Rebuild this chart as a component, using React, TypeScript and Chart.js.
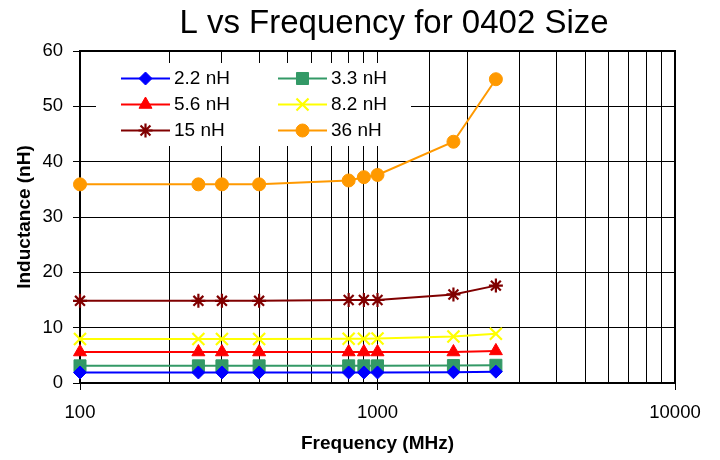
import React, { useEffect, useRef } from 'react';
import { Chart, registerables } from 'chart.js';
import { drawPoint } from 'chart.js/helpers';

Chart.register(...registerables);

const chartTitle = 'L vs Frequency for 0402 Size';
const xTitle = 'Frequency (MHz)';
const yTitle = 'Inductance (nH)';

const frequencies = [100, 250, 300, 400, 800, 900, 1000, 1800, 2500];
const seriesLabels = ['2.2 nH', '3.3 nH', '5.6 nH', '8.2 nH', '15 nH', '36 nH'];
const l2_2 = [1.9, 1.9, 1.9, 1.9, 1.9, 1.9, 1.9, 1.95, 2.05];
const l3_3 = [3.1, 3.1, 3.1, 3.1, 3.1, 3.1, 3.1, 3.15, 3.2];
const l5_6 = [5.6, 5.6, 5.6, 5.6, 5.6, 5.6, 5.6, 5.6, 5.8];
const l8_2 = [7.95, 7.95, 7.95, 7.95, 8.0, 8.0, 8.05, 8.4, 8.9];
const l15 = [14.85, 14.85, 14.85, 14.85, 15.0, 15.0, 15.0, 16.0, 17.6];
const l36 = [35.9, 35.9, 35.9, 35.9, 36.6, 37.2, 37.6, 43.6, 54.9];
const seriesValues = [l2_2, l3_3, l5_6, l8_2, l15, l36];

const xMin = 100;
const xMax = 10000;
const yMin = 0;
const yMax = 60;
const yStep = 10;

const colors = ['#0000FF', '#339966', '#FF0000', '#FFFF00', '#800000', '#FF9900'];
const pointStyles = ['rectRot', 'rect', 'triangle', 'crossRot', 'star', 'circle'];
const pointRadii = [6.5, 8.5, 7.5, 8.5, 7, 6.5];
const pointBorderWidths = [1, 1, 1, 2.2, 2.2, 1];

const FONT = '"Liberation Sans", Arial, Helvetica, sans-serif';

const isDecade = (v: number) => {
  const l = Math.log10(v);
  return Math.abs(l - Math.round(l)) < 1e-9;
};

const titlePlugin = {
  id: 'customTitle',
  afterDraw(chart: any) {
    const { ctx } = chart;
    ctx.save();
    ctx.font = `33px ${FONT}`;
    ctx.fillStyle = '#000';
    ctx.textAlign = 'center';
    ctx.textBaseline = 'alphabetic';
    ctx.fillText(chartTitle, 394, 33);
    ctx.restore();
  },
};

const framePlugin = {
  id: 'frame',
  afterDatasetsDraw(chart: any) {
    const { ctx, chartArea } = chart;
    ctx.save();
    ctx.strokeStyle = '#000';
    ctx.lineWidth = 2;
    ctx.beginPath();
    ctx.moveTo(chartArea.left, chartArea.top);
    ctx.lineTo(chartArea.right, chartArea.top);
    ctx.lineTo(chartArea.right, chartArea.bottom);
    ctx.stroke();
    ctx.restore();
  },
};

const legendPlugin = {
  id: 'boxLegend',
  afterDraw(chart: any) {
    const { ctx, chartArea } = chart;
    const left = chartArea.left;
    const top = chartArea.top;
    ctx.save();
    ctx.fillStyle = '#FFFFFF';
    ctx.fillRect(left + 16, top + 12, 315, 83);
    chart.data.datasets.forEach((ds: any, i: number) => {
      const col = i % 2;
      const row = Math.floor(i / 2);
      const x0 = left + (col === 0 ? 41 : 198);
      const y = top + 27.5 + row * 26;
      ctx.strokeStyle = ds.borderColor;
      ctx.lineWidth = 2;
      ctx.beginPath();
      ctx.moveTo(x0, y);
      ctx.lineTo(x0 + 49, y);
      ctx.stroke();
      ctx.fillStyle = ds.pointBackgroundColor;
      ctx.strokeStyle = ds.pointBorderColor;
      ctx.lineWidth = ds.pointBorderWidth;
      drawPoint(
        ctx,
        { pointStyle: ds.pointStyle, radius: ds.pointRadius, borderWidth: ds.pointBorderWidth, rotation: 0 } as any,
        x0 + 24.5,
        y
      );
      ctx.fillStyle = '#000';
      ctx.font = `19px ${FONT}`;
      ctx.textAlign = 'left';
      ctx.textBaseline = 'middle';
      ctx.fillText(ds.label, x0 + 53, y);
    });
    ctx.restore();
  },
};

export default function App() {
  const canvasRef = useRef<HTMLCanvasElement | null>(null);

  useEffect(() => {
    document.body.style.margin = '0';
    const canvas = canvasRef.current;
    if (!canvas) return;
    Chart.defaults.font.family = FONT;
    Chart.defaults.color = '#000';

    const datasets = seriesLabels.map((label, i) => ({
      label,
      data: frequencies.map((f, j) => ({ x: f, y: seriesValues[i][j] })),
      borderColor: colors[i],
      backgroundColor: colors[i],
      borderWidth: 2,
      pointStyle: pointStyles[i],
      pointRadius: pointRadii[i],
      pointHoverRadius: pointRadii[i],
      pointBackgroundColor: colors[i],
      pointBorderColor: colors[i],
      pointBorderWidth: pointBorderWidths[i],
      tension: 0,
      clip: false as any,
    }));

    const chart = new Chart(canvas, {
      type: 'line',
      data: { datasets },
      plugins: [framePlugin, legendPlugin, titlePlugin],
      options: {
        animation: false,
        responsive: false,
        devicePixelRatio: 1,
        layout: { padding: { top: 51, right: 45, left: 0, bottom: 0 } },
        plugins: {
          legend: { display: false },
          title: { display: false },
          tooltip: { enabled: false },
        },
        scales: {
          x: {
            type: 'logarithmic',
            min: xMin,
            max: xMax,
            afterFit: (scale: any) => {
              scale.height = 77;
            },
            grid: {
              color: '#000',
              lineWidth: 1,
              drawTicks: true,
              tickLength: 7,
              tickColor: (ctx: any) => (ctx.tick && isDecade(ctx.tick.value) ? '#000' : 'rgba(0,0,0,0)'),
            },
            border: { color: '#000', width: 2 },
            ticks: {
              autoSkip: false,
              maxRotation: 0,
              padding: 12,
              font: { size: 18.5 },
              color: '#000',
              callback: (value: any) => (isDecade(Number(value)) ? String(value) : ''),
            },
            title: {
              display: true,
              text: xTitle,
              font: { size: 19, weight: 'bold' },
              color: '#000',
              padding: { top: 0, bottom: 5 },
            },
          },
          y: {
            type: 'linear',
            min: yMin,
            max: yMax,
            afterFit: (scale: any) => {
              scale.width = 80;
            },
            grid: {
              color: '#000',
              lineWidth: 1,
              drawTicks: true,
              tickLength: 7,
              tickColor: '#000',
            },
            border: { color: '#000', width: 2 },
            ticks: {
              stepSize: yStep,
              padding: 10,
              font: { size: 18.5 },
              color: '#000',
            },
            title: {
              display: true,
              text: yTitle,
              font: { size: 19, weight: 'bold' },
              color: '#000',
              padding: { top: 13, bottom: 0 },
            },
          },
        },
      },
    });

    return () => {
      chart.destroy();
    };
  }, []);

  return (
    <div style={{ width: 720, height: 460 }}>
      <canvas ref={canvasRef} width={720} height={460} style={{ display: 'block' }} />
    </div>
  );
}
